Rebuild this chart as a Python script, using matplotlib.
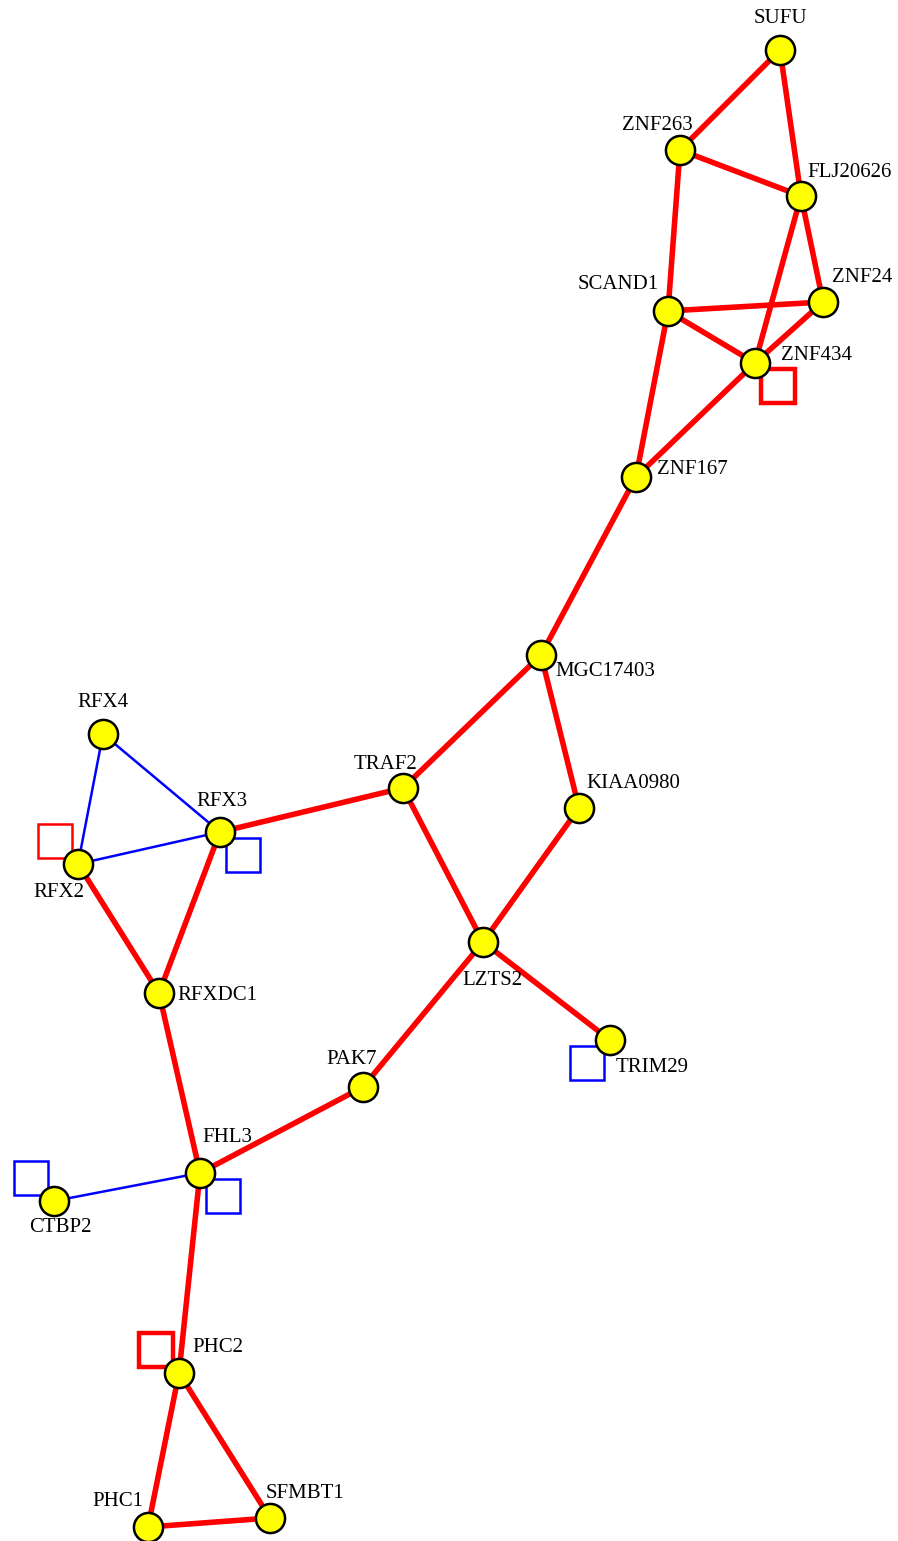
import matplotlib.pyplot as plt
from matplotlib.patches import Rectangle

# --------------------------------------
# Network data (layout in pixel coordinates, y down)
# --------------------------------------
nodes = ["SUFU", "ZNF263", "FLJ20626", "SCAND1", "ZNF24", "ZNF434", "ZNF167",
         "MGC17403", "TRAF2", "KIAA0980", "RFX4", "RFX3", "RFX2", "LZTS2",
         "RFXDC1", "TRIM29", "PAK7", "FHL3", "CTBP2", "PHC2", "PHC1", "SFMBT1"]
node_x = [780, 680, 801, 668, 823, 755, 636, 541, 403, 579, 103, 220, 78, 483,
          159, 610, 363, 200, 54, 179, 148, 270]
node_y = [50, 150, 196, 311, 302, 363, 477, 655, 788, 808, 734, 832, 864, 942,
          993, 1040, 1087, 1173, 1201, 1373, 1527, 1518]

# label offsets from node centre (pixels)
label_dx = [0, -23, 49, -50, 39, 62, 56, 64, -18, 54, 0, 2, -19, 9,
            58, 42, -11, 27, 6, 39, -30, 35]
label_dy = [-32, -25, -24, -27, -25, -8, -8, 16, -24, -25, -32, -31, 28, 38,
            2, 28, -28, -35, 27, -25, -25, -24]

strong_edges = [("SUFU", "ZNF263"), ("SUFU", "FLJ20626"), ("ZNF263", "FLJ20626"),
                ("ZNF263", "SCAND1"), ("FLJ20626", "ZNF24"), ("FLJ20626", "ZNF434"),
                ("SCAND1", "ZNF24"), ("SCAND1", "ZNF434"), ("ZNF24", "ZNF434"),
                ("ZNF434", "ZNF167"), ("SCAND1", "ZNF167"), ("ZNF167", "MGC17403"),
                ("MGC17403", "TRAF2"), ("MGC17403", "KIAA0980"), ("KIAA0980", "LZTS2"),
                ("TRAF2", "LZTS2"), ("TRAF2", "RFX3"), ("LZTS2", "TRIM29"),
                ("LZTS2", "PAK7"), ("PAK7", "FHL3"), ("RFX3", "RFXDC1"),
                ("RFX2", "RFXDC1"), ("RFXDC1", "FHL3"), ("FHL3", "PHC2"),
                ("PHC2", "PHC1"), ("PHC2", "SFMBT1"), ("PHC1", "SFMBT1")]
weak_edges = [("RFX4", "RFX3"), ("RFX4", "RFX2"), ("RFX2", "RFX3"), ("CTBP2", "FHL3")]

# self loops: node, colour, line width, direction of the square
loop_nodes = ["ZNF434", "RFX2", "RFX3", "TRIM29", "FHL3", "CTBP2", "PHC2"]
loop_colors = ["red", "red", "blue", "blue", "blue", "blue", "red"]
loop_widths = [3.2, 1.8, 1.8, 1.8, 1.8, 1.8, 3.2]
loop_dirs = [(1, 1), (-1, -1), (1, 1), (-1, 1), (1, 1), (-1, -1), (-1, -1)]

pos = {n: (x, y) for n, x, y in zip(nodes, node_x, node_y)}

plt.rcParams['font.family'] = ['Liberation Serif', 'DejaVu Serif']

fig = plt.figure(figsize=(8.98, 15.41), dpi=100)
ax = fig.add_axes([0, 0, 1, 1])
ax.set_xlim(0, 898)
ax.set_ylim(1541, 0)
ax.axis('off')

# self loops (squares hanging off a node corner)
side = 34
for n, c, lw, (sx, sy) in zip(loop_nodes, loop_colors, loop_widths, loop_dirs):
    x, y = pos[n]
    x0 = x + sx * 6 if sx > 0 else x + sx * 6 - side
    y0 = y + sy * 6 if sy > 0 else y + sy * 6 - side
    ax.add_patch(Rectangle((x0, y0), side, side, fill=False, edgecolor=c,
                           linewidth=lw, zorder=1, joinstyle='miter'))

for a, b in strong_edges:
    ax.plot([pos[a][0], pos[b][0]], [pos[a][1], pos[b][1]],
            color='red', linewidth=4.0, solid_capstyle='butt', zorder=2)
for a, b in weak_edges:
    ax.plot([pos[a][0], pos[b][0]], [pos[a][1], pos[b][1]],
            color='blue', linewidth=1.8, zorder=2)

ax.scatter(node_x, node_y, s=440, color='yellow', edgecolors='black',
           linewidths=1.8, zorder=3)

for n, x, y, dx, dy in zip(nodes, node_x, node_y, label_dx, label_dy):
    ax.text(x + dx, y + dy, n, fontsize=15, ha='center', va='center',
            color='black', zorder=4)

fig.savefig("out.png", dpi=100, facecolor='white')
